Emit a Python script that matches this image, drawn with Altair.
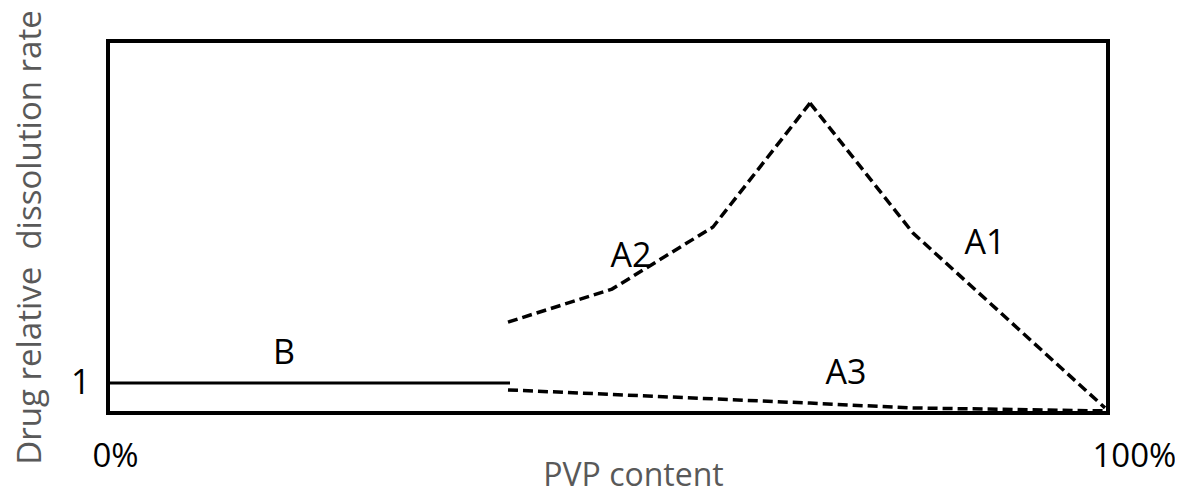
import altair as alt
import pandas as pd

# Series B (solid)
b_x = [0, 40.2]
b_y = [1.0, 1.0]

# Dashed series (A2 rising, A1 falling, A3 low)
a2_x = [40.0, 50.4, 60.5, 70.2]
a2_y = [3.03, 4.13, 6.2, 10.33]
a1_x = [70.2, 80.5, 99.7]
a1_y = [10.33, 6.0, 0.17]
a3_x = [40.0, 70.2, 80.2, 99.7]
a3_y = [0.77, 0.33, 0.17, 0.07]

# Series labels
lab_text = ["B", "A2", "A1", "A3"]
lab_x = [17.6, 52.3, 87.7, 73.8]
lab_y = [1.97, 5.2, 5.65, 1.3]

df_b = pd.DataFrame({"x": b_x, "y": b_y, "s": "B"})
df_a = pd.concat([
    pd.DataFrame({"x": a2_x, "y": a2_y, "s": "A2"}),
    pd.DataFrame({"x": a1_x, "y": a1_y, "s": "A1"}),
    pd.DataFrame({"x": a3_x, "y": a3_y, "s": "A3"}),
], ignore_index=True)
df_a["o"] = range(len(df_a))
df_lab = pd.DataFrame({"x": lab_x, "y": lab_y, "t": lab_text})

FONT = "Open Sans"

xs = alt.Scale(domain=[0, 100], nice=False, zero=False)
ys = alt.Scale(domain=[0, 12.4], nice=False, zero=False)

xax = alt.Axis(
    values=[0, 100], labelExpr="datum.value == 0 ? '0%' : '100%'",
    ticks=False, domain=False, grid=False,
    labelFont=FONT, labelFontSize=33, labelColor="black",
    labelAlign="left", labelOffset=-16, labelPadding=27, labelBaseline="top",
    title="PVP content", titleFont=FONT, titleFontSize=32, titleFontWeight="normal",
    titleColor="#595959", titleX=525, titleY=72, titleAlign="center",
    titleBaseline="alphabetic", titleAnchor="start",
)
yax = alt.Axis(
    values=[1], labelExpr="'1'", ticks=False, domain=False, grid=False,
    labelFont=FONT, labelFontSize=34, labelColor="black", labelPadding=18,
    labelBaseline="middle",
    title="Drug relative\u00a0 dissolution rate", titleFont=FONT, titleFontSize=33,
    titleFontWeight="normal", titleColor="#595959", titleAngle=270,
    titleX=-78, titleY=196, titleAlign="center", titleBaseline="middle",
    titleAnchor="start",
)

line_b = alt.Chart(df_b).mark_line(color="black", strokeWidth=3).encode(
    x=alt.X("x:Q", scale=xs, axis=xax),
    y=alt.Y("y:Q", scale=ys, axis=yax),
)

line_a = alt.Chart(df_a).mark_line(color="black", strokeWidth=3.5, strokeDash=[10, 5]).encode(
    x=alt.X("x:Q", scale=xs),
    y=alt.Y("y:Q", scale=ys),
    detail="s:N",
    order="o:Q",
)

labels = alt.Chart(df_lab).mark_text(
    font=FONT, fontSize=34, color="black", baseline="middle", align="center"
).encode(
    x=alt.X("x:Q", scale=xs),
    y=alt.Y("y:Q", scale=ys),
    text="t:N",
)

chart = alt.layer(line_b, line_a, labels).properties(
    width=1000, height=372,
    background="white",
    autosize=alt.AutoSizeParams(type="none"),
    padding={"left": 100, "top": 33, "right": 67, "bottom": 73},
).configure_view(stroke="black", strokeWidth=4)

chart.save("out.html", embed_options={"renderer": "svg", "actions": False})
